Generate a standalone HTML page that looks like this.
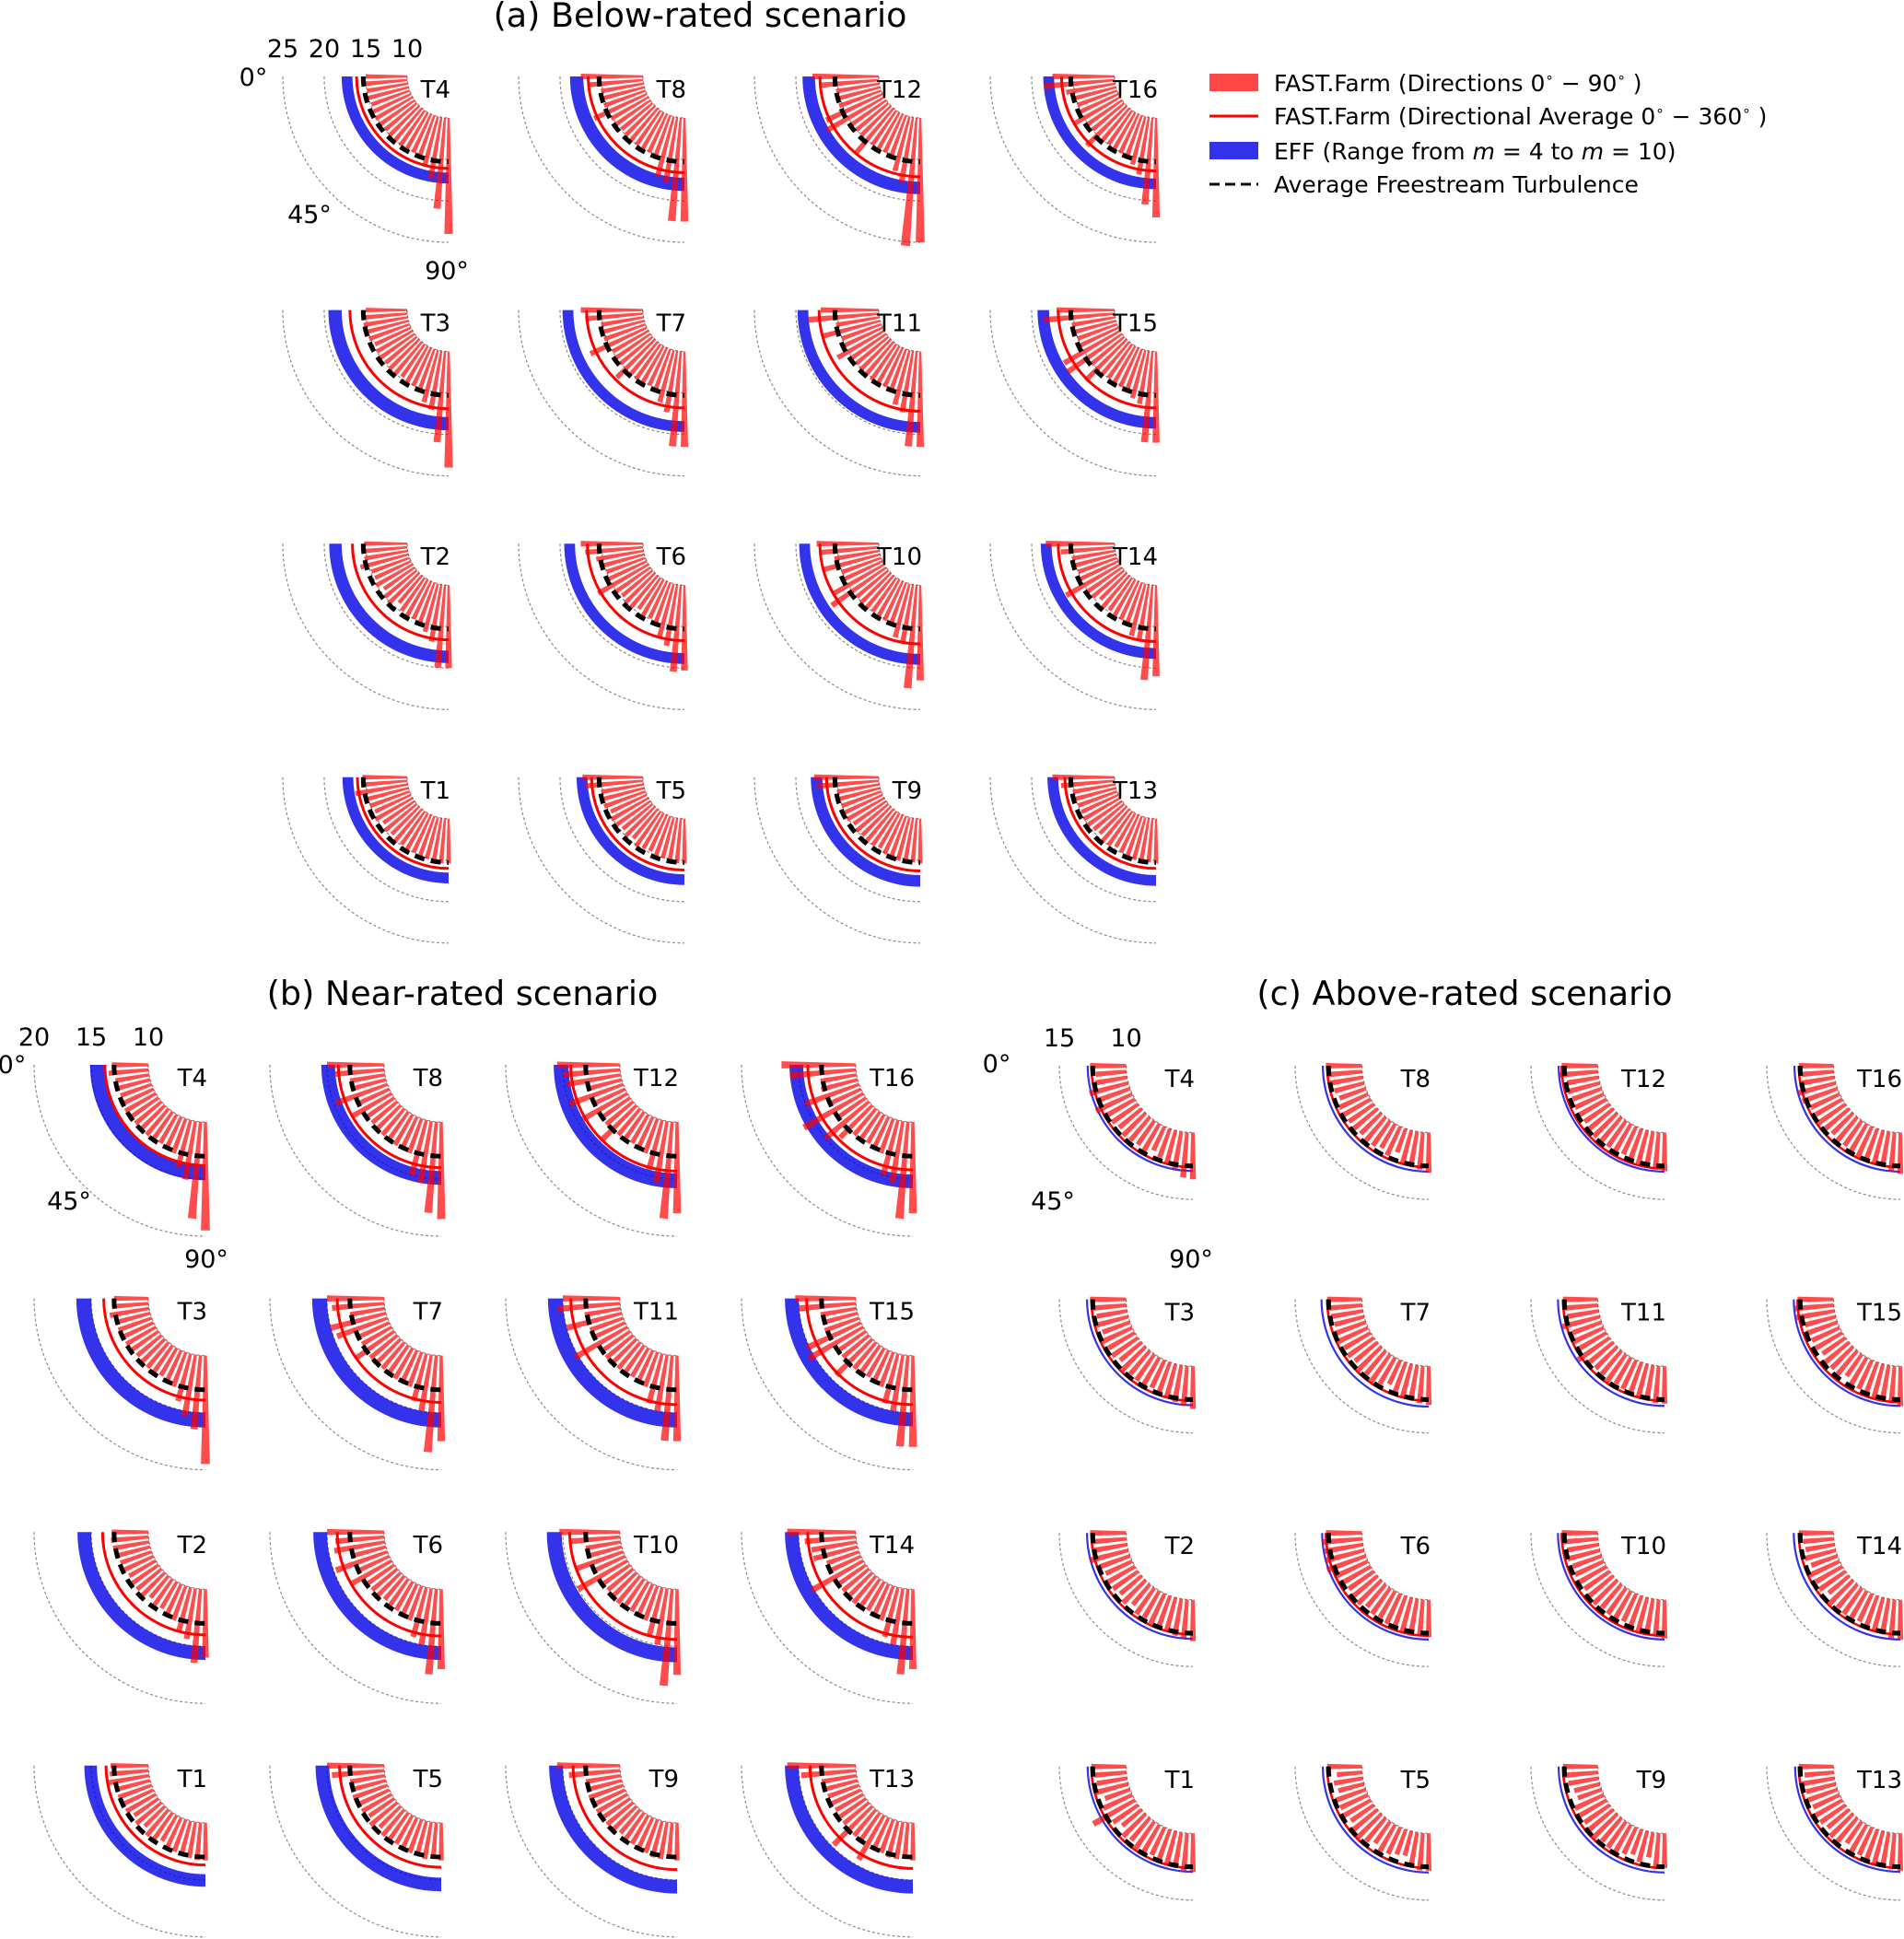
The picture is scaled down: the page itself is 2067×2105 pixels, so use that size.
<!DOCTYPE html>
<html><head><meta charset="utf-8">
<style>
html,body{margin:0;padding:0;background:#fff;}
svg{display:block;font-family:"DejaVu Sans","Liberation Sans",sans-serif;}
</style></head>
<body>
<svg id="fig" xmlns="http://www.w3.org/2000/svg" width="2067" height="2105" viewBox="0 0 2067 2105">
  <text x="760" y="29" font-size="36.5" text-anchor="middle">(a) Below-rated scenario</text>
  <text x="502" y="1091" font-size="36.5" text-anchor="middle">(b) Near-rated scenario</text>
  <text x="1590" y="1091" font-size="36.5" text-anchor="middle">(c) Above-rated scenario</text>
  <g font-size="25">
    <g>
      <rect x="1313" y="80" width="53" height="19" fill="#ff0000" fill-opacity="0.72"></rect>
      <text x="1383" y="99">FAST.Farm (Directions 0<tspan font-size="15" dy="-10">∘</tspan><tspan dy="10"> − 90</tspan><tspan font-size="15" dy="-10">∘</tspan><tspan dy="10"> )</tspan></text>
    </g>
    <g>
      <line x1="1313" y1="126" x2="1366" y2="126" stroke="#ff0000" stroke-width="3"></line>
      <text x="1383" y="135">FAST.Farm (Directional Average 0<tspan font-size="15" dy="-10">∘</tspan><tspan dy="10"> − 360</tspan><tspan font-size="15" dy="-10">∘</tspan><tspan dy="10"> )</tspan></text>
    </g>
    <g>
      <rect x="1313" y="154" width="53" height="19" fill="#0000e6" fill-opacity="0.8"></rect>
      <text x="1383" y="173">EFF (Range from <tspan font-style="italic">m</tspan> = 4 to <tspan font-style="italic">m</tspan> = 10)</text>
    </g>
    <g>
      <line x1="1313" y1="200" x2="1366" y2="200" stroke="#000" stroke-width="3" stroke-dasharray="11,6"></line>
      <text x="1383" y="209">Average Freestream Turbulence</text>
    </g>
  </g>
  <g id="panels"></g>
</svg>
<script>
// ---------- data ----------
const directions = [0,5,10,15,20,25,30,35,40,45,50,55,60,65,70,75,80,85,90];
const turbineIds = ["T1","T2","T3","T4","T5","T6","T7","T8","T9","T10","T11","T12","T13","T14","T15","T16"];
const freestreamA = 15.3, freestreamB = 13.0, freestreamC = 12.5;
const ticksA = [10,15,20,25], ticksB = [10,15,20], ticksC = [10,15];

const avgA    = [16.0,16.6,16.9,16.1,16.2,16.7,16.8,16.6,16.3,17.1,17.2,17.1,16.0,16.8,16.8,16.4];
const blueLoA = [16.5,17.9,17.9,16.6,16.7,18.2,18.4,17.2,16.8,18.3,18.5,17.7,16.8,17.6,17.9,17.3];
const blueHiA = [17.8,19.4,19.5,17.9,18.0,19.5,19.7,18.8,18.2,19.6,19.8,19.2,18.1,18.9,19.3,18.6];

const avgB    = [13.7,14.0,13.9,13.8,13.9,14.1,14.1,14.0,14.1,14.4,14.3,14.3,14.0,14.2,14.3,14.2];
const blueLoB = [14.5,15.0,15.0,13.9,14.8,15.0,15.0,14.3,15.0,15.1,15.0,14.5,15.0,15.0,15.0,14.6];
const blueHiB = [15.6,16.2,16.3,15.1,16.0,16.2,16.3,15.5,16.2,16.4,16.3,15.8,16.2,16.2,16.2,15.8];

const avgC    = [12.6,12.6,12.6,12.6,12.6,12.7,12.6,12.6,12.6,12.7,12.6,12.7,12.6,12.6,12.7,12.6];
const blueLoC = [12.8,12.85,12.85,12.8,12.85,12.9,12.95,12.85,12.85,12.9,12.9,12.85,12.8,12.9,12.9,12.85];
const blueHiC = [12.92,12.97,12.97,12.92,12.97,13.02,13.07,12.97,12.97,13.02,13.02,12.97,12.92,13.02,13.02,12.97];

const barsA_T1  = [15.4,15.6,16.4,15.0,15.1,14.8,15.2,14.6,15.0,14.7,15.1,14.9,15.2,15.0,15.1,15.2,15.3,15.4,15.4];
const barsA_T2  = [15.2,15.4,15.3,16.0,14.9,14.8,15.1,14.5,15.0,15.2,14.3,14.9,15.1,15.0,15.2,16.0,17.0,20.0,20.0];
const barsA_T3  = [15.0,15.2,15.4,15.0,15.2,14.8,15.0,15.1,14.9,15.0,15.1,14.8,15.0,15.1,15.3,16.5,17.2,21.0,24.0];
const barsA_T4  = [15.0,15.2,15.0,15.2,14.9,15.0,15.2,15.1,15.0,15.1,15.0,15.2,15.0,15.1,15.3,16.0,17.5,21.0,24.0];
const barsA_T5  = [17.3,17.0,15.2,15.0,15.3,14.8,15.2,15.0,14.7,15.0,14.6,15.2,14.9,14.8,15.1,15.1,15.3,15.4,15.4];
const barsA_T6  = [17.5,17.0,15.8,15.2,15.0,15.3,17.0,15.2,14.8,15.1,15.0,14.6,15.2,14.9,15.2,16.8,17.5,20.5,20.3];
const barsA_T7  = [17.5,17.0,15.2,15.0,15.3,17.5,15.0,15.2,15.1,16.5,15.0,15.2,15.1,15.0,15.3,16.5,17.5,21.5,21.5];
const barsA_T8  = [17.5,16.5,15.2,15.0,15.3,17.0,15.2,15.1,14.9,15.0,15.2,15.1,15.0,15.1,15.3,17.5,18.0,22.5,22.5];
const barsA_T9  = [17.8,17.5,15.2,15.0,15.1,15.0,15.2,14.8,15.1,14.9,15.2,15.0,14.8,15.2,15.1,15.4,15.5,15.3,15.4];
const barsA_T10 = [17.5,17.0,15.5,17.0,15.1,15.2,17.2,18.0,15.0,15.1,15.2,15.0,15.1,15.2,15.3,16.7,17.2,22.5,21.5];
const barsA_T11 = [17.0,18.5,15.3,17.3,15.1,15.2,16.5,15.0,15.1,15.2,15.0,15.3,15.1,15.2,15.3,16.8,17.5,21.5,21.5];
const barsA_T12 = [18.0,17.0,15.3,15.2,15.4,17.5,18.0,15.2,15.1,15.0,17.0,15.1,15.2,15.1,15.3,16.8,18.0,25.5,25.0];
const barsA_T13 = [17.5,16.5,15.2,15.1,15.0,14.9,15.1,15.0,14.8,14.6,15.1,15.0,14.7,15.0,15.1,15.3,15.4,15.3,15.4];
const barsA_T14 = [18.3,16.5,15.3,15.2,15.0,15.2,17.5,15.2,15.0,14.5,15.1,14.8,15.2,15.1,15.3,16.5,17.0,21.5,21.0];
const barsA_T15 = [17.0,18.6,15.3,15.2,15.1,15.3,17.8,18.0,15.2,17.0,15.1,15.0,15.1,15.2,15.3,16.0,16.5,21.0,21.0];
const barsA_T16 = [17.5,18.5,16.0,15.2,15.1,15.2,16.5,15.1,15.0,16.8,15.1,15.0,15.1,15.2,15.3,16.0,17.0,20.5,22.0];

const barsB_T1  = [13.3,13.4,13.6,13.0,13.1,12.8,13.0,12.6,12.9,12.5,13.0,12.8,12.6,12.9,13.0,13.0,13.2,13.3,13.3];
const barsB_T2  = [13.2,13.3,13.2,13.1,12.9,13.0,12.7,13.0,12.8,12.9,12.5,13.0,12.7,13.1,13.2,14.0,14.5,16.5,16.0];
const barsB_T3  = [13.0,13.2,13.5,13.0,13.1,12.9,13.0,13.1,12.8,13.1,12.9,13.0,12.8,13.1,13.2,14.3,15.5,16.5,19.5];
const barsB_T4  = [13.2,13.5,13.0,13.2,12.9,13.0,13.1,12.9,13.0,12.9,13.0,13.1,12.9,13.1,13.2,14.3,15.2,18.5,19.5];
const barsB_T5  = [15.0,14.6,13.1,13.0,13.2,12.9,13.0,12.7,13.1,12.6,13.0,12.8,12.9,12.8,13.1,13.1,13.3,13.2,13.3];
const barsB_T6  = [15.0,14.3,14.5,13.1,14.8,13.2,14.0,13.1,12.9,13.0,12.7,13.1,12.9,13.1,13.2,14.5,15.0,17.5,17.0];
const barsB_T7  = [15.0,14.6,13.1,15.0,14.7,13.2,13.0,14.0,13.1,12.9,13.0,12.8,13.1,12.9,13.2,14.3,15.0,18.5,17.5];
const barsB_T8  = [15.0,14.3,13.1,13.0,14.8,13.1,14.0,13.0,12.9,13.1,13.0,12.9,13.1,13.0,13.2,15.0,15.5,18.0,18.5];
const barsB_T9  = [15.5,14.5,13.1,13.0,13.2,12.9,13.1,12.8,13.0,13.1,12.7,13.0,12.9,13.0,13.1,13.3,13.3,13.2,13.3];
const barsB_T10 = [15.3,14.5,13.1,13.0,14.5,13.0,15.0,13.1,12.9,13.0,13.1,12.9,13.0,13.1,13.2,14.5,15.0,18.5,17.5];
const barsB_T11 = [15.0,15.5,13.2,15.0,13.1,13.2,15.3,13.0,13.1,12.9,13.0,13.1,12.9,13.0,13.2,14.5,15.0,17.5,17.5];
const barsB_T12 = [15.5,15.0,14.8,13.1,15.0,13.1,14.5,13.0,13.1,14.3,13.0,13.1,12.9,13.1,13.2,14.5,15.5,18.5,18.0];
const barsB_T13 = [16.0,14.8,13.1,13.2,12.9,13.1,12.8,13.0,12.9,14.8,13.0,13.1,14.5,13.0,13.1,13.3,13.3,13.2,13.3];
const barsB_T14 = [16.0,14.5,14.0,14.0,13.0,13.2,15.2,13.1,13.0,12.9,13.1,13.0,12.9,13.0,13.2,14.5,15.0,17.5,17.0];
const barsB_T15 = [15.3,15.0,13.2,13.1,13.2,15.2,15.5,13.1,13.0,14.5,13.0,13.1,12.9,13.1,13.2,14.5,15.0,18.0,18.0];
const barsB_T16 = [16.5,15.8,13.2,13.3,15.0,13.2,16.0,13.1,15.0,14.0,13.0,13.1,12.9,13.0,13.2,15.0,15.5,18.5,18.0];

const barsC_T1  = [12.6,12.4,12.3,12.6,12.0,12.4,13.6,12.3,11.9,12.4,12.2,12.5,12.4,12.3,12.5,12.6,12.7,12.8,12.9];
const barsC_T2  = [12.7,12.5,12.6,13.0,12.4,12.2,12.5,12.3,12.1,12.4,12.0,12.4,12.3,12.5,12.4,12.6,12.8,12.9,13.1];
const barsC_T3  = [12.7,12.5,12.3,12.5,12.2,12.5,12.3,12.4,12.1,12.5,12.3,12.4,12.5,12.3,12.5,12.6,12.8,13.0,13.2];
const barsC_T4  = [12.7,12.3,12.4,13.0,12.5,13.0,12.5,12.4,12.2,12.4,12.3,12.2,12.4,12.0,12.3,12.6,12.8,13.4,13.5];
const barsC_T5  = [12.6,11.9,12.2,12.0,12.4,12.3,12.5,12.1,12.4,12.6,12.3,12.0,12.5,12.2,12.0,11.9,12.4,12.8,12.8];
const barsC_T6  = [12.7,13.0,12.9,13.0,13.1,12.8,12.5,12.3,12.4,12.5,12.2,12.4,12.3,12.5,12.4,12.6,12.8,12.7,12.8];
const barsC_T7  = [12.6,12.5,12.4,12.3,12.6,12.5,12.3,12.4,12.2,12.5,12.4,12.5,12.3,12.0,12.4,12.6,12.7,12.8,12.9];
const barsC_T8  = [12.7,12.6,12.5,12.3,12.1,12.4,12.5,12.3,12.4,12.2,12.5,12.3,12.1,12.4,11.9,12.6,12.7,12.8,13.0];
const barsC_T9  = [12.6,12.7,12.3,12.0,11.9,12.4,12.5,12.3,12.4,12.5,12.3,12.4,12.5,12.2,12.0,12.4,11.9,12.5,12.6];
const barsC_T10 = [12.7,12.6,12.4,12.5,12.3,12.4,12.5,12.3,12.4,12.5,12.3,12.4,12.5,12.3,12.5,12.6,12.7,12.8,12.9];
const barsC_T11 = [12.6,12.5,12.4,12.9,12.3,12.5,12.4,12.9,12.5,12.3,12.4,12.5,12.3,12.4,12.5,12.6,12.7,12.8,12.8];
const barsC_T12 = [12.7,12.9,12.4,12.5,12.3,12.4,12.5,12.3,12.7,12.5,12.8,12.4,12.5,12.3,12.5,12.6,12.7,12.8,12.9];
const barsC_T13 = [12.6,12.2,12.5,12.3,12.4,12.2,12.5,12.3,12.1,12.4,12.5,12.0,12.4,12.3,12.5,12.6,12.4,12.7,12.8];
const barsC_T14 = [12.6,12.3,12.2,12.4,12.1,12.5,12.3,12.4,12.0,12.5,12.3,12.4,12.5,12.3,12.4,12.6,12.7,12.9,13.0];
const barsC_T15 = [12.7,12.9,12.9,12.4,12.5,12.3,12.4,12.1,12.5,12.3,12.4,12.0,12.5,12.4,12.5,12.6,12.7,12.8,13.0];
const barsC_T16 = [12.6,12.4,12.5,12.9,12.8,12.4,12.3,12.5,12.4,12.2,12.5,12.3,12.4,12.5,12.4,12.6,12.7,12.9,13.1];

const barsA = [barsA_T1,barsA_T2,barsA_T3,barsA_T4,barsA_T5,barsA_T6,barsA_T7,barsA_T8,barsA_T9,barsA_T10,barsA_T11,barsA_T12,barsA_T13,barsA_T14,barsA_T15,barsA_T16];
const barsB = [barsB_T1,barsB_T2,barsB_T3,barsB_T4,barsB_T5,barsB_T6,barsB_T7,barsB_T8,barsB_T9,barsB_T10,barsB_T11,barsB_T12,barsB_T13,barsB_T14,barsB_T15,barsB_T16];
const barsC = [barsC_T1,barsC_T2,barsC_T3,barsC_T4,barsC_T5,barsC_T6,barsC_T7,barsC_T8,barsC_T9,barsC_T10,barsC_T11,barsC_T12,barsC_T13,barsC_T14,barsC_T15,barsC_T16];

// ---------- layout ----------
const NS = "http://www.w3.org/2000/svg";
const root = document.getElementById("panels");
const scenarios = [
  {key:"a", x0:487, y0:83, k:9.0, origin:5, ticks:ticksA, fs:freestreamA, avg:avgA, lo:blueLoA, hi:blueHiA, bars:barsA,
   deg0:[275,93], deg45:[336,242], deg90:[485,303], lw:3, dw:5},
  {key:"b", x0:223, y0:1156, k:12.4, origin:5, ticks:ticksB, fs:freestreamB, avg:avgB, lo:blueLoB, hi:blueHiB, bars:barsB,
   deg0:[13,1165], deg45:[75,1313], deg90:[224,1376], lw:3, dw:5},
  {key:"c", x0:1295, y0:1157, k:14.5, origin:5, ticks:ticksC, fs:freestreamC, avg:avgC, lo:blueLoC, hi:blueHiC, bars:barsC,
   deg0:[1082,1164], deg45:[1143,1313], deg90:[1293,1376], lw:2.6, dw:5}
];
const colStep = 256, rowStep = 253.6;

function mk(tag, attrs, parent){
  const e = document.createElementNS(NS, tag);
  for (const a in attrs) e.setAttribute(a, attrs[a]);
  parent.appendChild(e);
  return e;
}
function pt(cx, cy, r, deg){
  const t = deg*Math.PI/180;
  return [cx - r*Math.cos(t), cy + r*Math.sin(t)];
}
function arcPath(cx, cy, r, a0, a1){
  const p0 = pt(cx,cy,r,a0), p1 = pt(cx,cy,r,a1);
  return `M${p0[0]},${p0[1]} A${r},${r} 0 0 0 ${p1[0]},${p1[1]}`;
}
function sector(cx, cy, r0, r1, a0, a1){
  const p0 = pt(cx,cy,r1,a0), p1 = pt(cx,cy,r1,a1), p2 = pt(cx,cy,r0,a1), p3 = pt(cx,cy,r0,a0);
  return `M${p0[0]},${p0[1]} A${r1},${r1} 0 0 0 ${p1[0]},${p1[1]} L${p2[0]},${p2[1]} A${r0},${r0} 0 0 1 ${p3[0]},${p3[1]} Z`;
}

scenarios.forEach(sc => {
  const rad = v => sc.k*(v - sc.origin);
  const inner = rad(10);
  for (let col=0; col<4; col++){
    for (let row=0; row<4; row++){
      const tnum = 4*col + 4 - row;
      const ti = tnum - 1;
      const cx = sc.x0 + col*colStep, cy = sc.y0 + row*rowStep;
      const g = mk("g", {}, root);
      
      
      sc.ticks.forEach(tv => {
        const gl = mk("path", {d:arcPath(cx,cy,rad(tv),0,90), fill:"none", stroke:"#8a8a8a", "stroke-width":1.2, "stroke-dasharray":"3,2.5"}, g);
        
        
      });
      let r0 = rad(sc.lo[ti]), r1 = rad(sc.hi[ti]);
      if (r1 - r0 < 2.2) r1 = r0 + 2.2;
      const band = mk("path", {d:sector(cx,cy,r0,r1,0,90), fill:"#0000e6", "fill-opacity":0.8}, g);
      
      
      const vals = sc.bars[ti];
      const half = 1.55;
      directions.forEach((d, i) => {
        const b = mk("path", {d:sector(cx,cy,inner,rad(vals[i]),d-half,d+half), fill:"#ff0000", "fill-opacity":0.7}, g);
        
        
      });
      const av = mk("path", {d:arcPath(cx,cy,rad(sc.avg[ti]),0,90), fill:"none", stroke:"#ff0000", "stroke-width":sc.lw}, g);
      
      
      const fsl = mk("path", {d:arcPath(cx,cy,rad(sc.fs),0,90), fill:"none", stroke:"#000", "stroke-width":sc.dw, "stroke-dasharray":"11,7"}, g);
      
      
      const lb = mk("text", {x:cx+2, y:cy+23, "font-size":26, "text-anchor":"end"}, g);
      
      
      lb.textContent = turbineIds[ti];
      if (col===0 && row===0){
        sc.ticks.forEach(tv => {
          const t = mk("text", {x:cx - rad(tv), y:cy - 21, "font-size":27, "text-anchor":"middle"}, g);
          
          
          t.textContent = String(tv);
        });
        [[sc.deg0,"0°"],[sc.deg45,"45°"],[sc.deg90,"90°"]].forEach(p => {
          const t = mk("text", {x:p[0][0], y:p[0][1], "font-size":27, "text-anchor":"middle"}, g);
          
          
          t.textContent = p[1];
        });
      }
    }
  }
});
</script>
</body></html>
